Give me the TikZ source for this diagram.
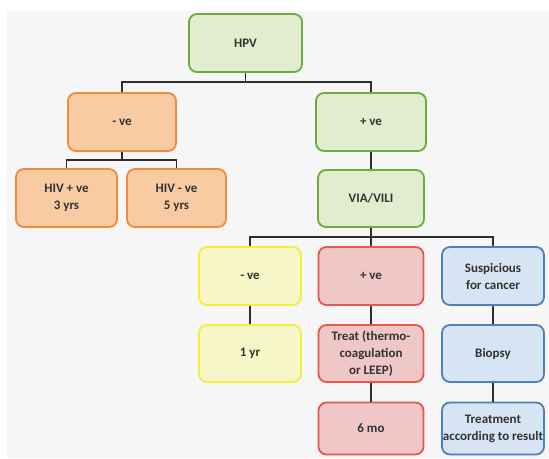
\documentclass[tikz,border=0pt]{standalone}
\usepackage{fontspec}
\setmainfont{Carlito}
\definecolor{bgc}{HTML}{F6F6F6}
\definecolor{txt}{HTML}{333333}
\definecolor{conn}{HTML}{2E2E2E}
\definecolor{gfill}{HTML}{E2ECCF}\definecolor{gdraw}{HTML}{6AAD3D}
\definecolor{ofill}{HTML}{F8CBA2}\definecolor{odraw}{HTML}{F08A3C}
\definecolor{yfill}{HTML}{F7F6C9}\definecolor{ydraw}{HTML}{F2EE3E}
\definecolor{rfill}{HTML}{EFC7C6}\definecolor{rdraw}{HTML}{E7574B}
\definecolor{bfill}{HTML}{D6E4F4}\definecolor{bdraw}{HTML}{4D80B6}
\begin{document}
\begin{tikzpicture}[x=1pt,y=-1pt,
  box/.style={line width=1.8pt, rounded corners=8pt, minimum height=58pt,
    align=center, inner sep=0pt, text=txt,
    font=\fontsize{13}{17}\selectfont\bfseries},
  gbox/.style={box, draw=gdraw, fill=gfill},
  obox/.style={box, draw=odraw, fill=ofill},
  ybox/.style={box, draw=ydraw, fill=yfill},
  rbox/.style={box, draw=rdraw, fill=rfill},
  bbox/.style={box, draw=bdraw, fill=bfill},
  link/.style={draw=conn, line width=1.5pt}]
\clip (0,0) rectangle (549,458);
\fill[white] (0,0) rectangle (549,458);
\fill[bgc] (7,11) rectangle (549,458);

\node[gbox, minimum width=113pt] (hpv) at (245.5,43) {HPV};
\node[obox, minimum width=108pt] (neg) at (122,122) {- ve};
\node[gbox, minimum width=110pt] (pos) at (371,122) {+ ve};
\node[obox, minimum width=101pt] (hivp) at (66.5,198) {HIV + ve\\3 yrs};
\node[obox, minimum width=99pt] (hivn) at (176.5,198) {HIV - ve\\5 yrs};
\node[gbox, minimum width=106pt, minimum height=57pt] (via) at (371,198.5) {VIA/VILI};
\node[ybox, minimum width=102pt] (yneg) at (250,276) {- ve};
\node[rbox, minimum width=105pt] (rpos) at (371,276) {+ ve};
\node[bbox, minimum width=102pt] (susp) at (493,276) {Suspicious\\for cancer};
\node[ybox, minimum width=102pt, minimum height=57pt] (oneyr) at (250,353.5) {1 yr};
\node[rbox, minimum width=105pt, minimum height=57pt] (treat) at (371,353.5) {Treat (thermo-\\coagulation\\or LEEP)};
\node[bbox, minimum width=102pt, minimum height=57pt] (biopsy) at (493,353.5) {Biopsy};
\node[rbox, minimum width=105pt, minimum height=52pt] (sixmo) at (371,428.5) {6 mo};
\node[bbox, minimum width=102pt, minimum height=52pt] (treatment) at (493,428.5) {Treatment\\according to result};

\coordinate (b1) at (245.5,82);
\coordinate (b2) at (122,160);
\coordinate (b3) at (371,237);

\draw[link] (hpv.south) -- (b1);
\draw[link] (neg.north) |- (b1) -| (pos.north);
\draw[link] (neg.south) -- (b2);
\draw[link] (hivp.north) |- (b2) -| (hivn.north);
\draw[link] (pos.south) -- (via.north);
\draw[link] (via.south) -- (b3);
\draw[link] (yneg.north) |- (b3) -| (susp.north);
\draw[link] (b3) -- (rpos.north);
\draw[link] (yneg.south) -- (oneyr.north);
\draw[link] (rpos.south) -- (treat.north);
\draw[link] (treat.south) -- (sixmo.north);
\draw[link] (susp.south) -- (biopsy.north);
\draw[link] (biopsy.south) -- (treatment.north);
\end{tikzpicture}
\end{document}
